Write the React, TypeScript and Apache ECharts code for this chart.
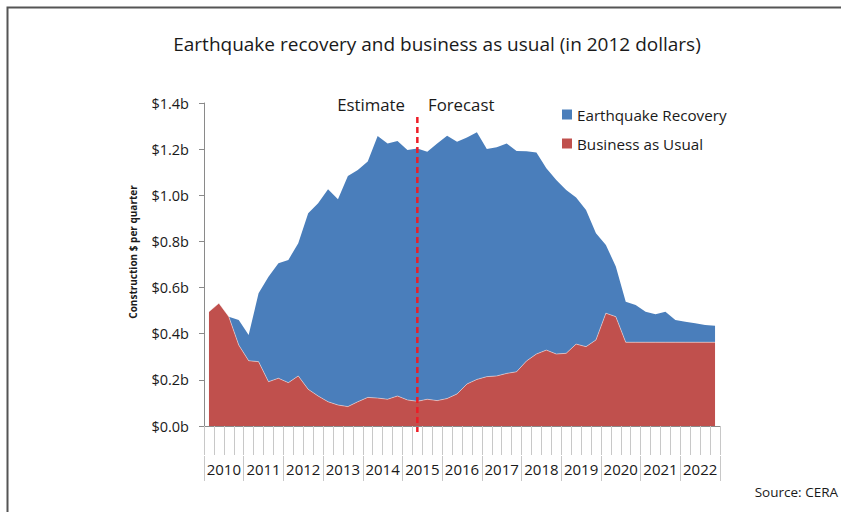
import React, { useEffect, useRef } from "react";
import * as echarts from "echarts";

const years = ["2010", "2011", "2012", "2013", "2014", "2015", "2016", "2017", "2018", "2019", "2020", "2021", "2022"];
const quarterNames = ["Q1", "Q2", "Q3", "Q4"];
const quarters = years.flatMap((y) => quarterNames.map((q) => `${y} ${q}`));

// $ billions per quarter
const businessAsUsual = [
  0.495, 0.532, 0.474, 0.351, 0.283, 0.279, 0.192, 0.207, 0.188, 0.217,
  0.159, 0.13, 0.105, 0.091, 0.084, 0.105, 0.124, 0.121, 0.116, 0.13,
  0.113, 0.107, 0.116, 0.11, 0.119, 0.139, 0.182, 0.202, 0.214, 0.217,
  0.228, 0.235, 0.282, 0.312, 0.329, 0.312, 0.315, 0.355, 0.344, 0.373,
  0.489, 0.474, 0.363, 0.363, 0.363, 0.363, 0.363, 0.363, 0.363, 0.363,
  0.363, 0.363,
];
const earthquakeRecovery = [
  0, 0, 0, 0.108, 0.111, 0.296, 0.455, 0.498, 0.532, 0.575,
  0.763, 0.835, 0.921, 0.892, 1.0, 1.005, 1.022, 1.136, 1.109, 1.105,
  1.083, 1.096, 1.073, 1.115, 1.139, 1.093, 1.068, 1.071, 0.987, 0.991,
  0.997, 0.957, 0.909, 0.873, 0.788, 0.754, 0.708, 0.635, 0.592, 0.462,
  0.296, 0.217, 0.176, 0.162, 0.132, 0.121, 0.132, 0.096, 0.089, 0.082,
  0.075, 0.072,
];
const yTicks = { min: 0, max: 1.4, interval: 0.2 };
const dividerQuarter = "2015 Q2";
const dividerRange = [1.339, -0.026];

const FONT = "'Open Sans', 'Noto Sans', sans-serif";

export default function App() {
  const ref = useRef<HTMLDivElement>(null);
  useEffect(() => {
    document.body.style.margin = "0";
    const chart = echarts.init(ref.current!, null, { renderer: "svg" });
    chart.setOption({
      animation: false,
      backgroundColor: "#ffffff",
      textStyle: { fontFamily: FONT },
      title: {
        text: "Earthquake recovery and business as usual (in 2012 dollars)",
        left: 432,
        textAlign: "center",
        top: 29,
        textStyle: { fontFamily: FONT, fontSize: 19, fontWeight: "normal", color: "#1a1a1a" },
      },
      legend: {
        orient: "vertical",
        left: 557,
        top: 102,
        itemWidth: 10,
        itemHeight: 10,
        itemGap: 14,
        icon: "rect",
        data: ["Earthquake Recovery", "Business as Usual"],
        textStyle: { fontFamily: FONT, fontSize: 15.2, color: "#1a1a1a" },
      },
      grid: { left: 204, right: 121, top: 103, bottom: 86, containLabel: false },
      xAxis: [
        {
          type: "category",
          data: quarters,
          boundaryGap: true,
          position: "bottom",
          axisLine: { show: true, lineStyle: { color: "#8a8a8a", width: 1 } },
          axisTick: { show: true, interval: 0, length: 29, lineStyle: { color: "#c8c8c8" } },
          axisLabel: { show: false },
          splitLine: { show: false },
        },
        {
          type: "category",
          data: years,
          boundaryGap: true,
          position: "bottom",
          offset: 30,
          axisLine: { show: false },
          axisTick: { show: true, interval: 0, length: 25, lineStyle: { color: "#c8c8c8" } },
          axisLabel: { show: true, interval: 0, margin: 5, fontFamily: FONT, fontSize: 15, color: "#1a1a1a" },
          splitLine: { show: false },
        },
      ],
      yAxis: {
        type: "value",
        min: yTicks.min,
        max: yTicks.max,
        interval: yTicks.interval,
        axisLine: { show: true, lineStyle: { color: "#8a8a8a" } },
        axisTick: { show: true, length: 5, lineStyle: { color: "#8a8a8a" } },
        splitLine: { show: false },
        axisLabel: {
          fontFamily: FONT,
          fontSize: 14.5,
          color: "#1a1a1a",
          margin: 15,
          formatter: (v: number) => `$${v.toFixed(1)}b`,
        },
      },
      series: [
        {
          name: "Business as Usual",
          type: "line",
          stack: "total",
          data: businessAsUsual,
          showSymbol: false,
          symbol: "none",
          itemStyle: { color: "#C0504D" },
          lineStyle: { color: "rgba(255,255,255,0.45)", width: 1 },
          areaStyle: { color: "#C0504D", opacity: 1 },
          z: 3,
        },
        {
          name: "Earthquake Recovery",
          type: "line",
          stack: "total",
          data: earthquakeRecovery,
          showSymbol: false,
          symbol: "none",
          itemStyle: { color: "#4A7EBB" },
          lineStyle: { width: 0 },
          areaStyle: { color: "#4A7EBB", opacity: 1 },
          z: 2,
        },
        {
          name: "divider",
          type: "custom",
          clip: false,
          silent: true,
          z: 5,
          data: [[dividerQuarter, dividerRange[0], dividerRange[1]]],
          renderItem: (params: any, api: any) => {
            const top = api.coord([api.value(0), api.value(1)]);
            const bottom = api.coord([api.value(0), api.value(2)]);
            return {
              type: "line",
              shape: { x1: top[0], y1: top[1], x2: bottom[0], y2: bottom[1] },
              style: { stroke: "#ee1c25", lineWidth: 2.5, lineDash: [6, 4] },
            };
          },
        },
      ],
      graphic: [
        {
          type: "rect",
          shape: { x: 7.5, y: 7.5, width: 1000, height: 1000 },
          style: { fill: "none", stroke: "#555", lineWidth: 2 },
          silent: true,
        },
        {
          type: "text",
          x: 133,
          y: 252,
          rotation: Math.PI / 2,
          style: {
            text: "Construction $ per quarter",
            fontFamily: FONT,
            fontSize: 10,
            fontWeight: "bold",
            fill: "#1a1a1a",
            textAlign: "center",
            textVerticalAlign: "middle",
          },
        },
        {
          type: "text",
          x: 405,
          y: 104,
          style: { text: "Estimate", fontFamily: FONT, fontSize: 16.8, fill: "#1a1a1a", textAlign: "right", textVerticalAlign: "middle" },
          z: 10,
        },
        {
          type: "text",
          x: 428,
          y: 104,
          style: { text: "Forecast", fontFamily: FONT, fontSize: 16.8, fill: "#1a1a1a", textAlign: "left", textVerticalAlign: "middle" },
          z: 10,
        },
        {
          type: "text",
          right: 3,
          top: 485,
          style: { text: "Source: CERA", fontFamily: FONT, fontSize: 13.5, fill: "#1a1a1a" },
        },
      ],
    });
    return () => chart.dispose();
  }, []);
  return <div ref={ref} style={{ width: 841, height: 512, position: "absolute", left: 0, top: 0 }} />;
}
